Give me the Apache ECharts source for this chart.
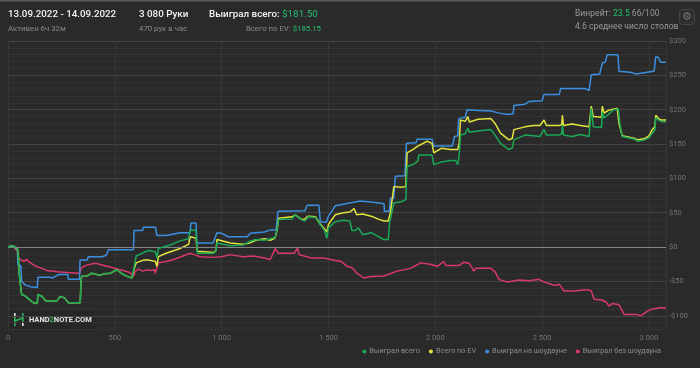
<!DOCTYPE html>
<html><head><meta charset="utf-8">
<script src="https://cdn.jsdelivr.net/npm/echarts@6/dist/echarts.min.js"></script>
<style>html,body{margin:0;padding:0;background:#2a2a2a;}#c{width:700px;height:368px;}</style>
</head><body><div id="c"></div>
<script>
// Legend / series names
const seriesNames = ['Выиграл всего', 'Всего по EV', 'Выиграл на шоудауне', 'Выиграл без шоудауна'];
const xTicks = [0, 500, 1000, 1500, 2000, 2500, 3000];
const yTickLabels = ['$300','$250','$200','$150','$100','$50','$0','-$50','-$100'];
const totalHands = 3080;

// [hand, $] points per series
const wonTotal = [[0,0],[20,2],[44,-3],[48,-10],[53,-40],[60,-60],[64,-69],[80,-71],[95,-75],[119,-81],[137,-82],[140,-69],[160,-72],[175,-78],[197,-79],[230,-78],[244,-72],[265,-74],[283,-81],[338,-81],[342,-48],[345,-43],[370,-42],[392,-38],[430,-41],[450,-39],[480,-38],[509,-33],[540,-40],[560,-43],[580,-45],[587,-47],[592,-26],[600,-13],[634,-8],[660,-5],[690,-7],[697,-16],[701,-16],[704,-2],[759,3],[806,9],[845,12],[853,25],[856,26],[880,24],[886,-9],[962,-9],[974,-6],[978,6],[1040,2],[1100,3],[1130,8],[1160,11],[1200,10],[1228,12],[1250,14],[1259,25],[1267,40],[1330,41],[1345,47],[1375,40],[1390,38],[1405,44],[1440,43],[1460,33],[1480,25],[1493,13],[1500,28],[1532,37],[1570,39],[1600,38],[1610,24],[1625,24],[1640,28],[1660,18],[1700,21],[1730,16],[1758,11],[1780,11],[1786,35],[1806,64],[1840,66],[1862,69],[1868,117],[1900,121],[1918,125],[1923,134],[1985,134],[1993,120],[2030,124],[2070,126],[2095,126],[2105,120],[2112,134],[2118,163],[2140,165],[2152,173],[2160,167],[2200,169],[2260,171],[2280,163],[2305,151],[2345,142],[2360,144],[2368,156],[2420,163],[2460,162],[2490,161],[2509,171],[2520,163],[2580,163],[2592,165],[2595,178],[2600,163],[2640,161],[2680,164],[2720,161],[2727,161],[2730,202],[2740,175],[2778,174],[2782,197],[2790,188],[2810,193],[2835,200],[2857,201],[2864,180],[2875,161],[2935,157],[2946,154],[2980,156],[3000,159],[3016,166],[3028,170],[3032,188],[3045,185],[3055,183],[3080,182]];

const wonEV = [[0,0],[20,2],[44,-3],[48,-10],[53,-40],[60,-60],[64,-69],[80,-71],[95,-75],[119,-81],[137,-82],[140,-69],[160,-72],[175,-78],[197,-79],[230,-78],[244,-72],[265,-74],[283,-81],[338,-81],[342,-48],[345,-43],[370,-42],[392,-38],[430,-41],[450,-39],[480,-38],[509,-33],[540,-40],[560,-43],[580,-45],[587,-47],[592,-30],[600,-23],[634,-19],[660,-19],[690,-21],[697,-28],[701,-28],[704,-14],[740,-9],[806,-2],[845,4],[853,15],[856,16],[880,13],[886,-6],[962,-8],[974,-5],[978,11],[1040,6],[1100,4],[1130,6],[1160,10],[1200,12],[1228,10],[1250,13],[1259,24],[1267,42],[1330,44],[1345,47],[1375,40],[1390,41],[1405,45],[1440,44],[1460,34],[1480,27],[1493,22],[1500,33],[1532,47],[1570,50],[1600,51],[1620,56],[1626,57],[1632,47],[1660,48],[1700,45],[1740,40],[1760,38],[1780,38],[1790,50],[1806,88],[1840,87],[1862,88],[1868,137],[1900,143],[1918,147],[1962,154],[1985,151],[1993,137],[2030,144],[2070,142],[2095,142],[2105,142],[2112,151],[2118,185],[2140,183],[2152,190],[2160,182],[2200,186],[2260,187],[2280,180],[2305,166],[2345,156],[2360,158],[2368,171],[2420,175],[2460,177],[2490,177],[2509,185],[2520,177],[2580,177],[2592,178],[2595,192],[2600,177],[2640,179],[2680,177],[2720,175],[2727,175],[2730,205],[2740,190],[2778,189],[2782,205],[2790,195],[2810,199],[2852,202],[2860,180],[2875,162],[2935,158],[2946,156],[2980,158],[3000,162],[3016,171],[3028,175],[3032,192],[3045,187],[3055,185],[3080,185]];

const wonShowdown = [[0,0],[20,2],[44,-1],[46,-26],[60,-27],[64,-50],[80,-55],[110,-58],[137,-59],[140,-44],[197,-44],[210,-45],[236,-40],[280,-40],[283,-47],[335,-47],[337,-19],[370,-19],[376,-14],[440,-14],[460,-12],[470,-4],[587,-4],[590,24],[630,24],[634,29],[690,29],[697,17],[740,17],[806,21],[853,21],[856,35],[880,35],[884,6],[960,6],[978,21],[1000,20],[1030,15],[1120,15],[1134,20],[1200,22],[1228,25],[1255,25],[1264,52],[1390,53],[1400,61],[1455,61],[1462,37],[1490,36],[1500,45],[1532,60],[1600,64],[1650,67],[1720,65],[1760,63],[1762,52],[1785,52],[1790,71],[1806,71],[1813,103],[1858,104],[1865,151],[1910,152],[1915,157],[1985,157],[1993,147],[2080,147],[2090,161],[2105,162],[2110,187],[2140,189],[2149,200],[2200,199],[2260,198],[2300,195],[2340,193],[2365,194],[2368,206],[2420,208],[2440,212],[2500,213],[2509,222],[2580,222],[2587,231],[2700,231],[2720,228],[2730,251],[2770,252],[2782,268],[2795,269],[2805,280],[2855,280],[2860,256],[2920,254],[2940,252],[3000,255],[3024,256],[3032,277],[3045,276],[3055,269],[3080,269]];

const wonNonShowdown = [[0,0],[20,2],[44,-6],[48,-16],[72,-21],[88,-18],[100,-22],[119,-26],[140,-29],[158,-31],[181,-34],[230,-36],[275,-37],[337,-38],[342,-31],[360,-27],[400,-24],[415,-24],[440,-26],[478,-29],[510,-32],[540,-34],[570,-37],[587,-43],[595,-36],[610,-32],[630,-35],[650,-33],[670,-34],[685,-33],[689,-38],[704,-23],[740,-21],[775,-18],[810,-14],[853,-9],[870,-11],[900,-14],[950,-15],[1000,-14],[1040,-11],[1100,-14],[1150,-13],[1200,-16],[1228,-18],[1251,-2],[1265,-9],[1340,-9],[1355,-1],[1362,-11],[1420,-16],[1478,-16],[1509,-18],[1560,-21],[1587,-28],[1610,-30],[1634,-38],[1665,-45],[1700,-43],[1759,-42],[1821,-35],[1884,-31],[1931,-23],[1975,-25],[2009,-28],[2040,-21],[2050,-27],[2110,-27],[2134,-22],[2160,-24],[2181,-35],[2190,-31],[2260,-31],[2280,-36],[2298,-47],[2337,-51],[2392,-48],[2440,-49],[2485,-47],[2510,-51],[2560,-56],[2580,-54],[2603,-64],[2650,-64],[2680,-63],[2712,-62],[2730,-64],[2744,-76],[2780,-77],[2800,-80],[2813,-86],[2830,-82],[2860,-84],[2884,-98],[2940,-98],[2962,-100],[2990,-94],[3008,-91],[3055,-88],[3080,-89]];

const colors = ['#19a957', '#e4e43e', '#3a8fe0', '#d8386b'];
const FONT = 'Roboto, "Noto Sans", sans-serif';

function fmtHands(v){ return String(v).replace(/\B(?=(\d{3})+(?!\d))/g, ' '); }
function fmtMoney(v){ return v < 0 ? '-$' + Math.abs(v) : '$' + v; }

const chart = echarts.init(document.getElementById('c'), null, {renderer: 'canvas'});
const minor = '#323232', major = '#444444';
const allData = [wonTotal, wonEV, wonShowdown, wonNonShowdown];
const zs = [5, 4, 3, 2];

chart.setOption({
  backgroundColor: '#2a2a2a',
  animation: false,
  textStyle: {fontFamily: FONT},
  grid: {left: 8, right: 34, top: 41, bottom: 38.5, containLabel: false},
  xAxis: {
    type: 'value', min: xTicks[0], max: totalHands, interval: 500,
    axisLine: {show: false}, axisTick: {show: false},
    splitLine: {show: true, lineStyle: {color: '#373737', width: 1}},
    axisLabel: {color: '#737373', fontSize: 7.5, margin: 5, fontFamily: FONT, showMaxLabel: false,
      formatter: v => fmtHands(v)}
  },
  yAxis: {
    type: 'value', position: 'right', min: -120, max: 300, interval: 10,
    axisLine: {show: false}, axisTick: {show: false},
    splitLine: {show: true, lineStyle: {color: [minor, minor, major, minor, minor], width: 1}},
    axisLabel: {color: '#737373', fontSize: 7.5, margin: 3, fontFamily: FONT,
      formatter: v => { const s = fmtMoney(v); return (v % 50 === 0 && yTickLabels.indexOf(s) >= 0) ? s : ''; }}
  },
  legend: {
    right: 34, bottom: 8, itemWidth: 4, itemHeight: 4, itemGap: 9, icon: 'circle',
    textStyle: {color: '#8c8c8c', fontSize: 7.3, fontFamily: FONT, padding: [0,0,0,-2]},
    data: seriesNames
  },
  series: seriesNames.map((n, i) => ({
    name: n, type: 'line', data: allData[i], showSymbol: false, symbol: 'circle',
    z: zs[i], color: colors[i],
    lineStyle: {color: colors[i], width: 1.5},
    markLine: i === 3 ? {silent: true, symbol: 'none', label: {show: false},
      lineStyle: {color: '#858585', width: 1, type: 'solid'}, data: [{yAxis: 0}]} : undefined
  })),
  graphic: [
    {type: 'rect', shape: {x: 0, y: 0, width: 700, height: 1.5}, style: {fill: '#5a5a5a'}},
    {type: 'text', x: 8, y: 15, style: {text: '13.09.2022 - 14.09.2022', fill: '#f2f2f2', font: '500 9.8px ' + FONT, verticalAlign: 'middle'}},
    {type: 'text', x: 8, y: 29, style: {text: 'Активен 6ч 32м', fill: '#8a8a8a', font: '7.8px ' + FONT, verticalAlign: 'middle'}},
    {type: 'text', x: 139, y: 15, style: {text: '3 080 Руки', fill: '#f2f2f2', font: '500 9.8px ' + FONT, verticalAlign: 'middle'}},
    {type: 'text', x: 139, y: 29, style: {text: '470 рук в час', fill: '#8a8a8a', font: '7.8px ' + FONT, verticalAlign: 'middle'}},
    {type: 'text', x: 209, y: 15, style: {text: '{a|Выиграл всего: }{b|$181.50}', verticalAlign: 'middle',
      rich: {a: {fill: '#f2f2f2', font: '500 9.8px ' + FONT}, b: {fill: '#23c26c', font: '9.8px ' + FONT}}}},
    {type: 'text', x: 321, y: 29, style: {text: '{a|Всего по EV: }{b|$185.15}', align: 'right', verticalAlign: 'middle',
      rich: {a: {fill: '#8a8a8a', font: '7.8px ' + FONT}, b: {fill: '#23c26c', font: '7.8px ' + FONT}}}},
    {type: 'text', x: 575, y: 14, style: {text: '{a|Винрейт: }{b|23.5}{a| 66/100}', verticalAlign: 'middle',
      rich: {a: {fill: '#9a9a9a', font: '8.6px ' + FONT}, b: {fill: '#23c26c', font: '8.6px ' + FONT}}}},
    {type: 'text', x: 575, y: 27, style: {text: '4.6 среднее число столов', fill: '#9a9a9a', font: '8.6px ' + FONT, verticalAlign: 'middle'}},
    {type: 'rect', shape: {x: 679.5, y: 9.5, width: 15, height: 15, r: 3}, style: {fill: '#2e2e2e', stroke: '#444', lineWidth: 1}},
    {type: 'text', x: 687, y: 17.5, style: {text: '⚙', fill: '#777', font: '11px "DejaVu Sans"', align: 'center', verticalAlign: 'middle'}},
    // logo
    {type: 'rect', shape: {x: 9, y: 309, width: 86, height: 21}, style: {fill: '#262626'}},
    {type: 'rect', shape: {x: 14, y: 313, width: 1.6, height: 4}, style: {fill: '#e8e8e8'}},
    {type: 'rect', shape: {x: 14, y: 317, width: 1.6, height: 9}, style: {fill: '#2fb35d'}},
    {type: 'rect', shape: {x: 22, y: 313, width: 1.6, height: 9}, style: {fill: '#2fb35d'}},
    {type: 'rect', shape: {x: 22, y: 322, width: 1.6, height: 4}, style: {fill: '#e8e8e8'}},
    {type: 'line', shape: {x1: 15, y1: 321, x2: 22.5, y2: 318}, style: {stroke: '#2fb35d', lineWidth: 1.6}},
    {type: 'text', x: 29, y: 320, style: {text: '{a|HAND}{b|2}{a|NOTE.COM}', verticalAlign: 'middle',
      rich: {a: {fill: '#e6e6e6', font: 'bold 7.5px ' + FONT}, b: {fill: '#2fb35d', font: 'bold 7.5px ' + FONT}}}}
  ]
});
</script>
</body></html>
